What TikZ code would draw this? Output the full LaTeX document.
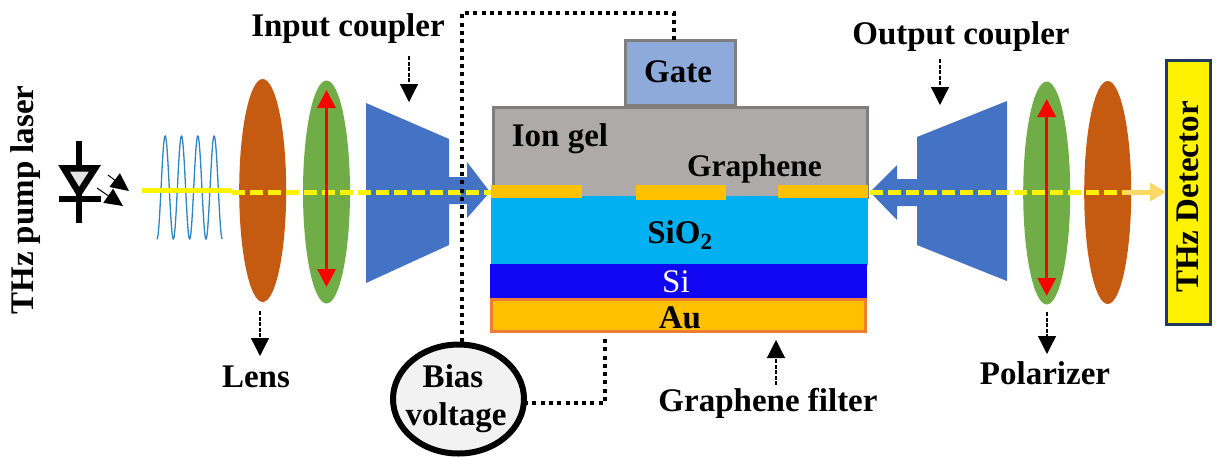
\documentclass[tikz,border=0pt]{standalone}
\usepackage{fontspec}
\setmainfont{Liberation Serif}
\usetikzlibrary{shapes.geometric,arrows.meta}
\definecolor{lensc}{HTML}{C55A11}
\definecolor{polc}{HTML}{70AD47}
\definecolor{coupc}{HTML}{4472C4}
\definecolor{gelc}{HTML}{AEAAAA}
\definecolor{edgec}{HTML}{7F7F7F}
\definecolor{gatec}{HTML}{8EAADB}
\definecolor{goldc}{HTML}{FFC000}
\definecolor{sioc}{HTML}{00B0F0}
\definecolor{sic}{HTML}{1207F5}
\definecolor{auedge}{HTML}{ED7D31}
\definecolor{detedge}{HTML}{1F3864}
\definecolor{wavec}{HTML}{2E86C1}
\definecolor{outc}{HTML}{FFD966}
\tikzset{
  lab/.style={font=\bfseries\fontsize{33}{36}\selectfont,inner sep=0pt,outer sep=0pt},
  lensshape/.style={ellipse,draw=none,inner sep=0pt,outer sep=0pt,minimum width=47,minimum height=223},
  layer/.style={rectangle,inner sep=0pt,outer sep=0pt},
  coupler/.style={fill=coupc,draw=none},
  beam/.style={yellow,line width=5pt},
  beamdash/.style={beam,dash pattern=on 13pt off 5pt},
  pol/.style={red,line width=3.5pt,{Triangle[length=18pt,width=18pt]}-{Triangle[length=18pt,width=18pt]}},
  lead/.style={black,line width=4pt,dash pattern=on 4pt off 4.3pt},
  callout/.style={black,line width=1.3pt,dash pattern=on 4pt off 1.5pt,-{Triangle[length=18pt,width=18pt]}},
  diodeline/.style={black,line width=6pt},
  emit/.style={black,line width=1pt,-{Triangle[length=18pt,width=17pt]}}
}
\begin{document}
\begin{tikzpicture}[x=1pt,y=-1pt]
\useasboundingbox (0,0) rectangle (1218,456);
% lenses
\node[lensshape,fill=lensc] (lensL) at (262.7,190.5) {};
\node[lensshape,fill=polc] (polL) at (326.5,192) {};
\node[lensshape,fill=polc] (polR) at (1046.7,193) {};
\node[lensshape,fill=lensc] (lensR) at (1107.7,192.5) {};
% couplers
\fill[coupler] (366,103) -- (449,139) -- (449,177) -- (467,177) -- (467,162) -- (490,192) -- (467,218) -- (467,204) -- (449,204) -- (449,245) -- (366,283) -- cycle;
\fill[coupler] (1007,101) -- (917,137) -- (917,179) -- (897,179) -- (897,165) -- (870,192) -- (897,220) -- (897,206) -- (917,206) -- (917,245) -- (1007,281) -- cycle;
% stack
\node[layer,draw=edgec,line width=3pt,fill=gatec,minimum width=110,minimum height=65] (gate) at (680,72.5) {};
\node[layer,draw=edgec,line width=3pt,fill=gelc,minimum width=374,minimum height=90] (gel) at (680,152) {};
\node[layer,fill=sioc,minimum width=377,minimum height=69] (sio) at (679.5,230) {};
\node[layer,fill=goldc,minimum width=91,minimum height=13.5] (g1) at (536.5,191.7) {};
\node[layer,fill=goldc,minimum width=90,minimum height=15] (g2) at (681,192.5) {};
\node[layer,fill=goldc,minimum width=90,minimum height=13.5] (g3) at (823,191.7) {};
\node[layer,fill=sic,minimum width=377,minimum height=34] (si) at (678.5,281) {};
\node[layer,draw=auedge,line width=3pt,fill=goldc,minimum width=374,minimum height=32] (au) at (678.5,315.5) {};
% detector
\node[layer,draw=detedge,line width=3pt,fill=yellow,minimum width=44,minimum height=264] (det) at (1188,192) {};
% wave
\draw[wavec,line width=1.3pt,domain=157:222.3,samples=200,smooth] plot (\x,{187.5+51.5*cos((\x-157)/16.33*360)});
% beam
\coordinate (srcL) at (142,190);
\coordinate (srcE) at (232,190);
\coordinate (dashS) at (232,192);
\coordinate (outS) at (1123,192);
\draw[beam] (srcL) -- (srcE);
\draw[beamdash] (dashS) -- (g1.west |- dashS);
\draw[beamdash] (870,192) -- (outS);
\draw[outc,line width=5pt,-{Triangle[length=16pt,width=18pt]}] (outS) -- (det.west |- outS);
% polarisation arrows
\coordinate (p1a) at (326.5,90); \coordinate (p1b) at (326.5,287);
\coordinate (p2a) at (1046.7,99); \coordinate (p2b) at (1046.7,296);
\draw[pol] (p1a) -- (p1b);
\draw[pol] (p2a) -- (p2b);
% diode
\coordinate (dT) at (79,141); \coordinate (dB) at (79,223);
\coordinate (t1) at (64,168.3); \coordinate (t2) at (95,168.3); \coordinate (t3) at (79,193);
\coordinate (b1) at (59,199); \coordinate (b2) at (101,199);
\draw[diodeline] (dT) -- (dB);
\draw[black,line width=6.5pt,fill=gray!22,miter limit=4] (t1) -- (t2) -- (t3) -- cycle;
\draw[diodeline] (b1) -- (b2);
\coordinate (e1a) at (108,175); \coordinate (e1b) at (129,191);
\coordinate (e2a) at (97,188); \coordinate (e2b) at (123,206);
\draw[emit] (e1a) -- (e1b);
\draw[emit] (e2a) -- (e2b);
% bias
\node[ellipse,draw=black,line width=6pt,fill=black!5,inner sep=0pt,outer sep=0pt,minimum width=131,minimum height=109] (bias) at (458.5,399) {};
\coordinate (topL) at (462,13);
\coordinate (topR) at (674,13);
\coordinate (gateIn) at (674,40);
\coordinate (auIn) at (605,337);
\coordinate (biasTop) at (462,342);
\coordinate (leadC) at (605,403);
\draw[lead] (biasTop) -- (topL) -- (topR) -- (gateIn);
\draw[lead] (bias.east |- leadC) -- (leadC) -- (auIn);
% callouts
\coordinate (inA) at (409,56); \coordinate (inB) at (409,102);
\coordinate (ouA) at (940,59); \coordinate (ouB) at (940,105);
\coordinate (leA) at (260,311); \coordinate (leB) at (260,356);
\coordinate (poA) at (1047,312); \coordinate (poB) at (1047,354);
\coordinate (grA) at (776,385); \coordinate (grB) at (776,340);
\draw[callout] (inA) -- (inB);
\draw[callout] (ouA) -- (ouB);
\draw[callout] (leA) -- (leB);
\draw[callout] (poA) -- (poB);
\draw[callout] (grA) -- (grB);
% labels
\node[lab] (tin) at (348,29) {Input coupler};
\node[lab] (tout) at (961,37) {Output coupler};
\node[lab] (tlens) at (256,377) {Lens};
\node[lab] (tpol) at (1045,373) {Polarizer};
\node[lab] (tgf) at (768,403) {Graphene filter};
\node[lab,rotate=90] (tpump) at (26,200) {THz pump laser};
\node[lab,rotate=90] (tdet) at (1188,197) {THz Detector};
\node[lab] (tgate) at (678,72) {Gate};
\node[lab] (tion) at (560,139) {Ion gel};
\node[lab,font=\bfseries\fontsize{31.5}{36}\selectfont] (tgr) at (754.5,169) {Graphene};
\node[lab] (tsio) at (680,235) {SiO\textsubscript{2}};
\node[font=\fontsize{33}{36}\selectfont,white,inner sep=0pt] (tsi) at (676,282) {Si};
\node[lab] (tau) at (680,318) {Au};
\node[lab] (tbias) at (453,376) {Bias};
\node[lab] (tvolt) at (456,418) {voltage};
\end{tikzpicture}
\end{document}
